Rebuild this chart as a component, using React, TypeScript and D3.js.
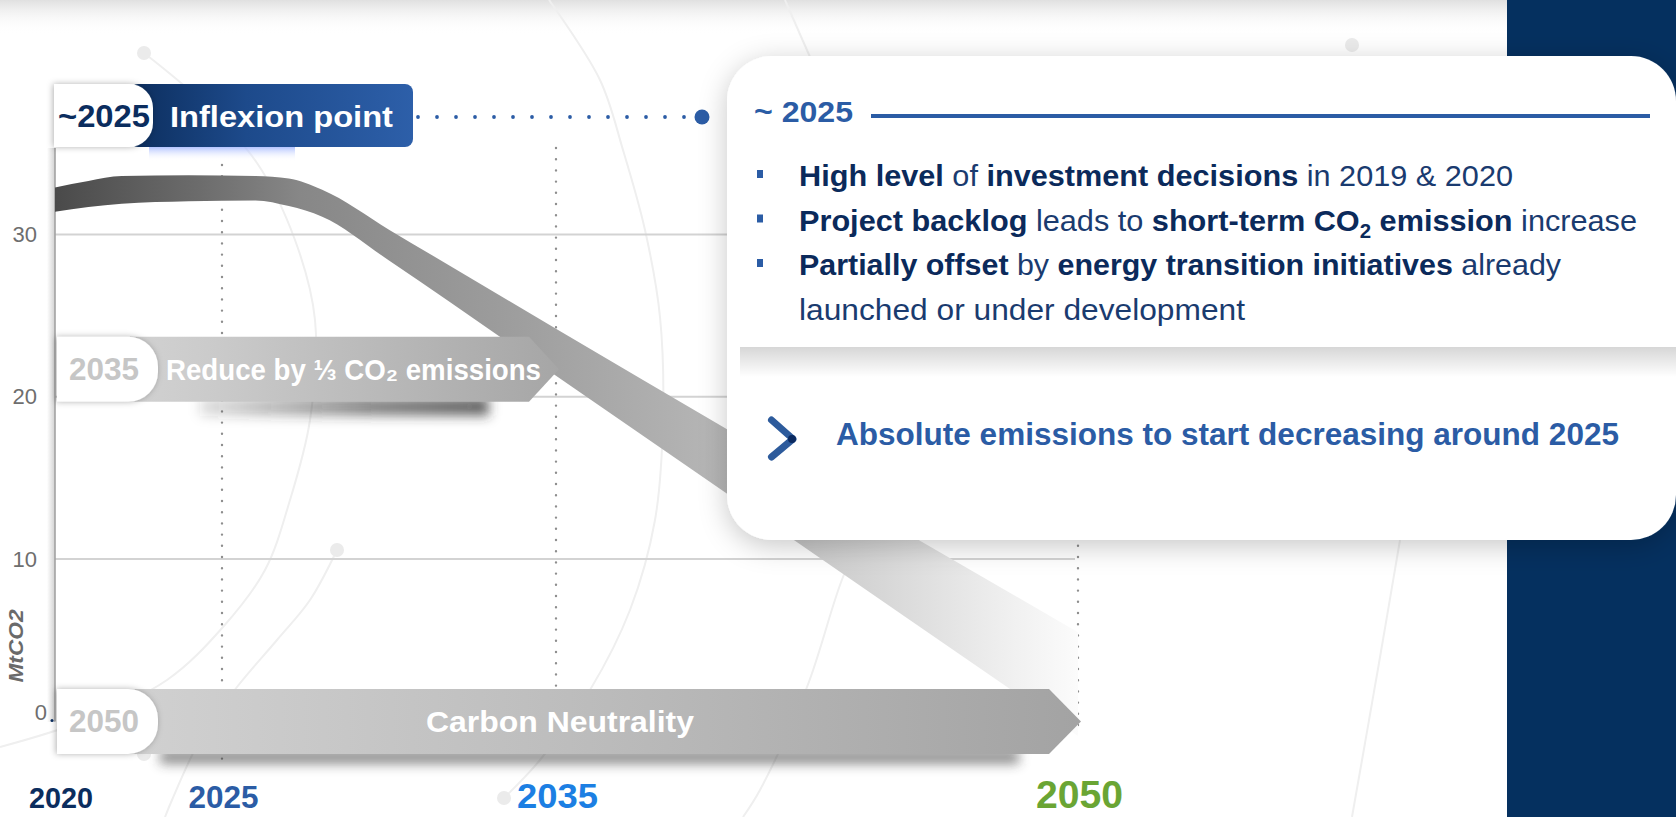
import React from "react";
import * as d3 from "d3";

// ---------------- data ----------------
const years = [2020, 2021, 2022, 2024, 2026, 2027, 2028, 2030, 2035, 2040, 2045, 2050];
const upperBound = [32.9, 33.3, 33.6, 33.65, 33.6, 33.45, 32.75, 30.3, 24.2, 17.9, 11.7, 5.5];
const lowerBound = [31.4, 31.7, 31.9, 32.05, 32.1, 31.75, 31.1, 28.4, 21.3, 13.9, 6.5, -0.9];

const yTicks = [0, 10, 20, 30];
const gridTicks = [10, 20, 30];
const axisYears = [2020, 2025, 2035, 2050];
const axisYearColors = ["#0b2d5e", "#2b5ca5", "#1c7fe3", "#6aa534"];
const axisYearSizes = [30, 31, 35, 38];
const axisYearWidths = [64, 70, 81, 87];
const dottedYears = [2025, 2035, 2050];

const targetYears = [2035, 2050];
const targetValues = [21.7, 0];
const targetYearLabels = ["2035", "2050"];
const targetLabels = ["Reduce by ⅓ CO₂ emissions", "Carbon Neutrality"];

const inflexionLabel = "~2025";
const inflexionTitle = "Inflexion point";
const cardHeader = "~ 2025";
const conclusion = "Absolute emissions to start decreasing around 2025";

// bullet lines: [text, bold?]
const bulletLines: [string, boolean][][] = [
  [["High level", true], [" of ", false], ["investment decisions", true], [" in 2019 & 2020", false]],
  [["Project backlog", true], [" leads to ", false], ["short-term CO", true], ["2", true], [" emission", true], [" increase", false]],
  [["Partially offset", true], [" by ", false], ["energy transition initiatives", true], [" already", false]],
  [["launched or under development", false]],
];
const bulletWidths = [714, 838, 762, 446];
const bulletHasMarker = [true, true, true, false];

const W = 1676;
const H = 817;
const FONT = "'Liberation Sans', Arial, Helvetica, sans-serif";

// decorative background arcs
const decoArcs: [number, number][][] = [
  [[144, 53], [200, 100], [257, 163], [295, 240], [315, 320], [310, 420], [290, 500], [265, 570], [223, 627], [167, 680], [80, 722], [0, 747]],
  [[549, 0], [600, 80], [623, 150], [645, 230], [660, 317], [663, 420], [655, 520], [630, 610], [590, 690], [540, 760], [504, 798]],
  [[337, 550], [310, 600], [277, 640], [237, 687], [200, 740], [172, 800], [165, 817]],
  [[870, 520], [843, 577], [807, 687], [760, 790], [743, 817]],
  [[785, 0], [810, 57]],
  [[1400, 540], [1379, 663], [1352, 817]],
];
const decoDots: [number, number][] = [[144, 53], [337, 550], [504, 798], [144, 754], [1352, 45]];

function pillPath(x0: number, y0: number, x1: number, y1: number, r: number) {
  return `M${x0},${y0} H${x1 - r} A${r},${r} 0 0 1 ${x1},${y0 + r} V${y1 - r} A${r},${r} 0 0 1 ${x1 - r},${y1} H${x0} Z`;
}
function bannerPath(x0: number, y0: number, y1: number, tipX: number, depth: number) {
  const ym = (y0 + y1) / 2;
  return `M${x0},${y0} H${tipX - depth} L${tipX},${ym} L${tipX - depth},${y1} H${x0} Z`;
}

export default function App() {
  const x = d3.scaleLinear().domain(axisYears).range([55, 222, 556, 1078]);
  const y = d3.scaleLinear().domain([0, 30]).range([721.4, 234.5]);
  const idx = d3.range(years.length);

  const bandArea = d3
    .area<number>()
    .x((i) => x(years[i]))
    .y0((i) => y(lowerBound[i]))
    .y1((i) => y(upperBound[i]))
    .curve(d3.curveMonotoneX);

  const decoLine = d3.line<[number, number]>().curve(d3.curveCatmullRom.alpha(0.5));

  const x0 = x(2020);
  const cardX = 727, cardY = 56, cardW = W - 727, cardH = 484;

  const connectorY = 117;
  const connectorDots = d3.range(418, 690, 19);
  const labelX = [166, 426];
  const labelW = [375, 268];

  return (
    <div style={{ position: "absolute", left: 0, top: 0 }}>
      <svg width={W} height={H} viewBox={`0 0 ${W} ${H}`} style={{ display: "block", fontFamily: FONT }}>
        <defs>
          <linearGradient id="topStrip" x1="0" y1="0" x2="0" y2="1">
            <stop offset="0" stopColor="#e0e0e0" />
            <stop offset="1" stopColor="#ffffff" stopOpacity="0" />
          </linearGradient>
          <linearGradient id="bandGrad" gradientUnits="userSpaceOnUse" x1="55" y1="0" x2="1080" y2="0">
            <stop offset="0" stopColor="#4a4a4a" />
            <stop offset="0.141" stopColor="#6c6c6c" />
            <stop offset="0.239" stopColor="#878787" />
            <stop offset="0.434" stopColor="#9c9c9c" />
            <stop offset="0.649" stopColor="#b6b6b6" />
            <stop offset="0.727" stopColor="#c8c8c8" />
            <stop offset="0.824" stopColor="#dadada" />
            <stop offset="0.922" stopColor="#eeeeee" />
            <stop offset="1" stopColor="#fcfcfc" />
          </linearGradient>
          <linearGradient id="banner1" x1="0" y1="0" x2="1" y2="0">
            <stop offset="0" stopColor="#d8d8d8" />
            <stop offset="0.3" stopColor="#cbcbcb" />
            <stop offset="1" stopColor="#a6a6a6" />
          </linearGradient>
          <linearGradient id="banner2" x1="0" y1="0" x2="1" y2="0">
            <stop offset="0" stopColor="#d4d4d4" />
            <stop offset="0.5" stopColor="#bdbdbd" />
            <stop offset="1" stopColor="#a3a3a3" />
          </linearGradient>
          <linearGradient id="inflexGrad" gradientUnits="userSpaceOnUse" x1="135" y1="0" x2="413" y2="0">
            <stop offset="0" stopColor="#0d2f5f" />
            <stop offset="0.4" stopColor="#1d4a8b" />
            <stop offset="1" stopColor="#2d5fa9" />
          </linearGradient>
          <linearGradient id="glowGrad" x1="0" y1="0" x2="0" y2="1">
            <stop offset="0" stopColor="#9fb4ff" stopOpacity="0.8" />
            <stop offset="1" stopColor="#ffffff" stopOpacity="0" />
          </linearGradient>
          <linearGradient id="axisShadow" x1="0" y1="0" x2="1" y2="0">
            <stop offset="0" stopColor="#000" stopOpacity="0" />
            <stop offset="1" stopColor="#000" stopOpacity="0.18" />
          </linearGradient>
          <linearGradient id="panelShadow" x1="0" y1="0" x2="0" y2="1">
            <stop offset="0" stopColor="#000" stopOpacity="0.16" />
            <stop offset="1" stopColor="#000" stopOpacity="0" />
          </linearGradient>
          <linearGradient id="shadow2035" x1="0" y1="0" x2="1" y2="0">
            <stop offset="0" stopColor="#303030" stopOpacity="0.15" />
            <stop offset="0.6" stopColor="#303030" stopOpacity="0.6" />
            <stop offset="1" stopColor="#303030" stopOpacity="0.75" />
          </linearGradient>
          <filter id="cardShadow" x="-10%" y="-20%" width="130%" height="150%">
            <feDropShadow dx="0" dy="6" stdDeviation="14" floodColor="#000" floodOpacity="0.22" />
          </filter>
          <filter id="pillShadow" x="-20%" y="-20%" width="140%" height="140%">
            <feDropShadow dx="-1" dy="0" stdDeviation="3" floodColor="#000" floodOpacity="0.3" />
          </filter>
          <filter id="blur6" x="-20%" y="-100%" width="140%" height="300%">
            <feGaussianBlur stdDeviation="6" />
          </filter>
        </defs>

        <rect x={0} y={0} width={W} height={H} fill="#ffffff" />
        <rect x={0} y={0} width={W} height={34} fill="url(#topStrip)" />

        {/* decorative arcs */}
        <g fill="none" stroke="#efefef" strokeWidth={2}>
          {decoArcs.map((pts, i) => (
            <path key={i} d={decoLine(pts) || ""} />
          ))}
        </g>
        <g fill="#ebebeb">
          {decoDots.map((p, i) => (
            <circle key={i} cx={p[0]} cy={p[1]} r={7} />
          ))}
        </g>

        {/* navy side panel */}
        <rect x={1507} y={0} width={W - 1507} height={H} fill="#05305f" />

        {/* gridlines */}
        <g stroke="#d3d3d3" strokeWidth={2}>
          {gridTicks.map((t) => (
            <line key={t} x1={x0} x2={x(2050) - 3} y1={y(t)} y2={y(t)} />
          ))}
        </g>

        {/* dotted year guides */}
        <g stroke="#8e8e8e" strokeWidth={2.4} strokeLinecap="round" strokeDasharray="0 11.2">
          {dottedYears.map((yr) => (
            <line key={yr} x1={x(yr)} x2={x(yr)} y1={yr === 2035 ? 148 : 165} y2={yr === 2050 ? 735 : 762} />
          ))}
        </g>

        {/* y axis */}
        <rect x={x0 - 8} y={148} width={8} height={574} fill="url(#axisShadow)" />
        <line x1={x0} x2={x0} y1={148} y2={y(0)} stroke="#a2a2a2" strokeWidth={1.6} />

        {/* emissions band */}
        <path d={bandArea(idx) || ""} fill="url(#bandGrad)" />

        {/* target banners */}
        {targetYears.map((yr, k) => {
          const cy = y(targetValues[k]);
          const top = cy - 32.5;
          const bot = cy + 32.5;
          const tip = x(yr) + 3;
          const depth = k === 0 ? 30 : 32;
          return (
            <g key={yr}>
              <rect
                x={k === 0 ? 200 : 160}
                y={bot - 4}
                width={k === 0 ? tip - depth - 240 : tip - depth - 190}
                height={k === 0 ? 18 : 14}
                fill={k === 0 ? "url(#shadow2035)" : "#303030"}
                opacity={k === 0 ? 1 : 0.55}
                filter="url(#blur6)"
              />
              <path d={bannerPath(x0 + 2, top, bot, tip, depth)} fill={k === 0 ? "url(#banner1)" : "url(#banner2)"} />
              <path d={pillPath(x0 + 2, top, 158, bot, 30)} fill="#ffffff" filter="url(#pillShadow)" />
              <text x={69} y={cy + 11} fontSize={31} fontWeight="bold" fill="#c6c6c6" textLength={70} lengthAdjust="spacingAndGlyphs">
                {targetYearLabels[k]}
              </text>
              <text x={labelX[k]} y={cy + 11} fontSize={30} fontWeight="bold" fill="#ffffff" textLength={labelW[k]} lengthAdjust="spacingAndGlyphs">
                {targetLabels[k]}
              </text>
            </g>
          );
        })}

        {/* inflexion box */}
        <rect x={149} y={147} width={146} height={14} fill="url(#glowGrad)" />
        <rect x={130} y={84} width={283} height={63} rx={8} fill="url(#inflexGrad)" />
        <path d={pillPath(54, 84, 153, 147, 24)} fill="#ffffff" filter="url(#pillShadow)" />
        <text x={58} y={127} fontSize={31} fontWeight="bold" fill="#0b2d5e" textLength={92} lengthAdjust="spacingAndGlyphs">
          {inflexionLabel}
        </text>
        <text x={170} y={127} fontSize={30} fontWeight="bold" fill="#ffffff" textLength={223} lengthAdjust="spacingAndGlyphs">
          {inflexionTitle}
        </text>
        <g fill="#2b5ca5">
          {connectorDots.map((cx) => (
            <circle key={cx} cx={cx} cy={connectorY} r={1.9} />
          ))}
          <circle cx={702} cy={connectorY} r={7.5} />
        </g>

        {/* card */}
        <rect x={cardX} y={cardY} width={cardW} height={cardH} rx={45} fill="#ffffff" filter="url(#cardShadow)" />
        <rect x={740} y={347} width={W - 740} height={30} fill="url(#panelShadow)" />
        <text x={754} y={122} fontSize={30} fontWeight="bold" fill="#2b5ca5" textLength={99} lengthAdjust="spacingAndGlyphs">
          {cardHeader}
        </text>
        <line x1={871} x2={1650} y1={116} y2={116} stroke="#2b5ca5" strokeWidth={4} />
        {bulletLines.map((segs, li) => {
          const base = 186 + li * 44.5;
          return (
            <g key={li}>
              {bulletHasMarker[li] && <rect x={757} y={base - 16} width={6} height={8} fill="#2b5ca5" />}
              <text x={799} y={base} fontSize={30} fill="#17386c" textLength={bulletWidths[li]} lengthAdjust="spacingAndGlyphs">
                {segs.map(([s, b], si) => {
                  const isSub = li === 1 && si === 3;
                  const afterSub = li === 1 && si === 4;
                  return (
                    <tspan
                      key={si}
                      fontWeight={b ? "bold" : "normal"}
                      fill={b ? "#0b2a5b" : "#1a3b6f"}
                      fontSize={isSub ? 20 : undefined}
                      dy={isSub ? 7 : afterSub ? -7 : undefined}
                    >
                      {s}
                    </tspan>
                  );
                })}
              </text>
            </g>
          );
        })}
        <polyline points="771.5,420 793,439 771.5,457" fill="none" stroke="#2d5b9c" strokeWidth={7} strokeLinecap="round" strokeLinejoin="round" />
        <circle cx={792} cy={439} r={4} fill="#0b2a60" />
        <text x={836} y={445} fontSize={31} fontWeight="bold" fill="#2b5ca5" textLength={783} lengthAdjust="spacingAndGlyphs">
          {conclusion}
        </text>

        {/* y tick labels */}
        <g fontSize={22} fill="#6e6e6e" textAnchor="end">
          {yTicks.map((t) => (
            <text key={t} x={t === 0 ? 47 : 37} y={t === 0 ? y(t) - 9 : y(t)} dominantBaseline="central">
              {t}
            </text>
          ))}
        </g>
        <circle cx={52} cy={y(0) - 1} r={1.5} fill="#0b2d5e" />
        <text
          transform="translate(15,646) rotate(-90)"
          textAnchor="middle"
          dominantBaseline="central"
          fontSize={21}
          fontWeight="bold"
          fontStyle="italic"
          fill="#6a6a6a"
          textLength={73}
          lengthAdjust="spacingAndGlyphs"
        >
          MtCO2
        </text>

        {/* x year labels */}
        {axisYears.map((yr, i) => (
          <text
            key={yr}
            x={x(yr) + (yr === 2020 ? 6 : 1.5) - axisYearWidths[i] / 2}
            y={808}
            fontSize={axisYearSizes[i]}
            fontWeight="bold"
            fill={axisYearColors[i]}
            textLength={axisYearWidths[i]}
            lengthAdjust="spacingAndGlyphs"
          >
            {yr}
          </text>
        ))}
      </svg>
    </div>
  );
}
